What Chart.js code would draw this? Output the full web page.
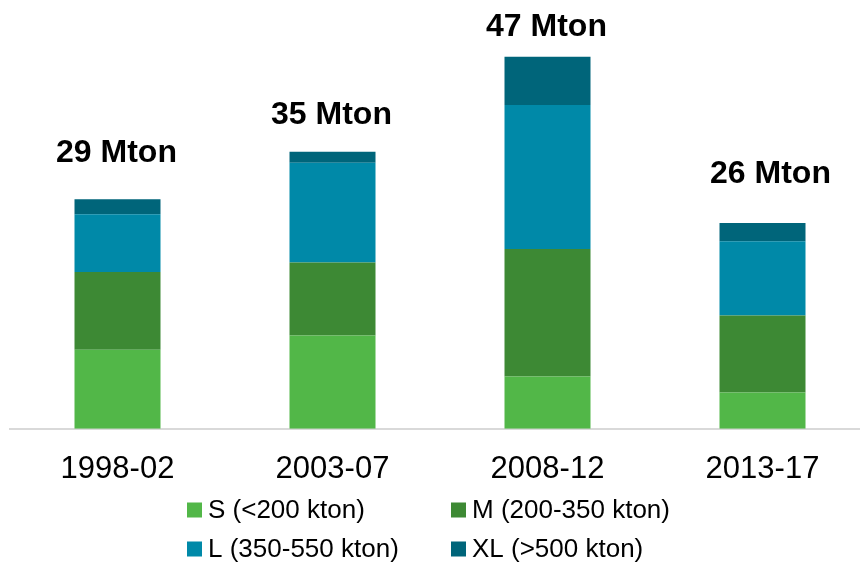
<!DOCTYPE html>
<html>
<head>
<meta charset="utf-8">
<script src="https://cdn.jsdelivr.net/npm/chart.js@4/dist/chart.umd.min.js"></script>
<style>
  html, body { margin: 0; padding: 0; background: #ffffff; overflow: hidden; }
  #wrap { width: 870px; height: 564px; }
</style>
</head>
<body>
<div id="wrap"><canvas id="c" width="870" height="564"></canvas></div>
<script>
// Periods on the category axis
const periods = ['1998-02', '2003-07', '2008-12', '2013-17'];

// Volumes per size class (Mton)
const sizeS  = [10.0, 11.8,  6.6, 4.6];
const sizeM  = [ 9.8,  9.2, 16.1, 9.7];
const sizeL  = [ 7.3, 12.6, 18.2, 9.4];
const sizeXL = [ 1.9,  1.4,  6.1, 2.3];

const seriesNames = ['S (<200 kton)', 'M (200-350 kton)', 'L (350-550 kton)', 'XL (>500 kton)'];
const seriesColors = ['#52b748', '#3d8934', '#0089a8', '#00657a'];

const FONT = '"Liberation Sans", Arial, Helvetica, sans-serif';

// Total label above each stacked bar
const totalLabels = {
  id: 'totalLabels',
  afterDatasetsDraw(chart, args, opts) {
    const ctx = chart.ctx;
    const last = chart.getDatasetMeta(chart.data.datasets.length - 1);
    ctx.save();
    ctx.font = 'bold 32px ' + FONT;
    ctx.fillStyle = '#000000';
    ctx.textAlign = 'center';
    ctx.textBaseline = 'alphabetic';
    periods.forEach((p, i) => {
      const total = chart.data.datasets.reduce((s, d) => s + d.data[i], 0);
      const bar = last.data[i];
      const dx = opts.dx[i], gap = opts.gap[i];
      ctx.fillText(Math.round(total) + ' Mton', bar.x + dx, bar.y - gap);
    });
    ctx.restore();
  }
};

// Two-column legend under the axis
const gridLegend = {
  id: 'gridLegend',
  afterDraw(chart, args, opts) {
    const ctx = chart.ctx;
    ctx.save();
    ctx.font = '26px ' + FONT;
    ctx.textBaseline = 'middle';
    ctx.textAlign = 'left';
    chart.data.datasets.forEach((ds, i) => {
      const col = i % 2, row = Math.floor(i / 2);
      const x = opts.colX[col], y = opts.rowY[row];
      ctx.fillStyle = ds.backgroundColor;
      ctx.fillRect(x, y - 7.5, 15, 15);
      ctx.fillStyle = '#000000';
      ctx.fillText(ds.label, x + 21, y + 1);
    });
    ctx.restore();
  }
};

const seriesData = [sizeS, sizeM, sizeL, sizeXL];

new Chart(document.getElementById('c'), {
  type: 'bar',
  data: {
    labels: periods,
    datasets: seriesData.map((d, i) => ({
      label: seriesNames[i],
      data: d,
      backgroundColor: seriesColors[i],
      borderWidth: 0,
      categoryPercentage: 1,
      barPercentage: 0.4
    }))
  },
  options: {
    responsive: false,
    animation: false,
    devicePixelRatio: 1,
    layout: { padding: { top: 33, left: 10, right: 0, bottom: 62 } },
    plugins: {
      legend: { display: false },
      tooltip: { enabled: false },
      totalLabels: { dx: [-1, -1, -1, 8], gap: [37, 28, 21, 40] },
      gridLegend: { colX: [187, 451], rowY: [510, 549] }
    },
    scales: {
      x: {
        stacked: true,
        grid: { display: false },
        border: { display: true, color: '#d9d9d9', width: 2 },
        ticks: {
          color: '#000000',
          padding: 14,
          font: { family: FONT, size: 31 }
        }
      },
      y: {
        stacked: true,
        display: false,
        min: 0,
        max: 50
      }
    }
  },
  plugins: [totalLabels, gridLegend]
});
</script>
</body>
</html>
